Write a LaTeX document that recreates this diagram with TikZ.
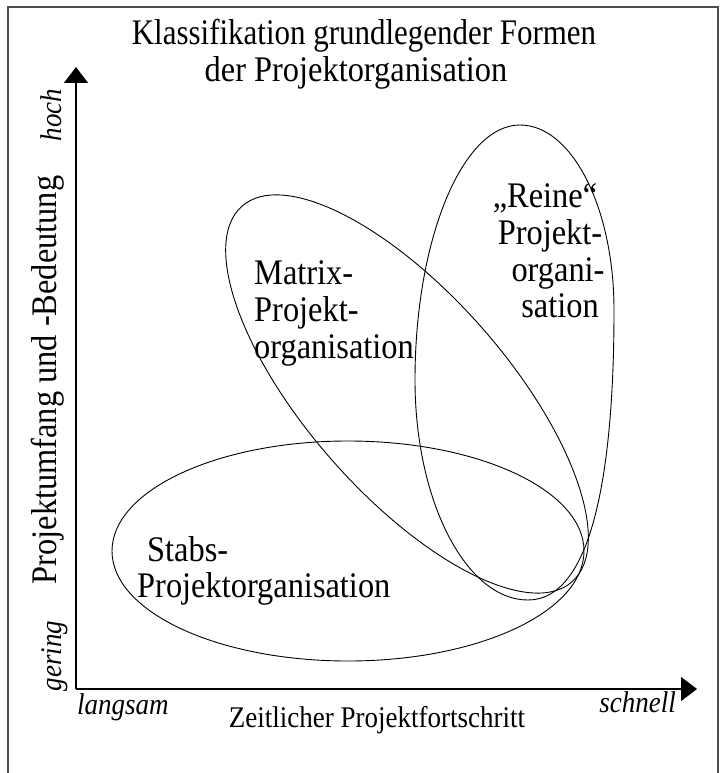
\documentclass[tikz,border=0pt]{standalone}
\usepackage{fontspec}
\setmainfont{Liberation Serif}[FakeStretch=0.9]
\newfontfamily\condfont{Liberation Serif}[FakeStretch=0.86]
\usetikzlibrary{arrows.meta}
\tikzset{
  frameline/.style={draw=black!70, line width=1.6pt},
  axisline/.style={line width=1.2pt, -{Triangle[length=16pt,width=24pt]}},
  oval/.style={line width=0.9pt},
  bigtxt/.style={inner sep=0pt, font=\fontsize{36}{38}\selectfont},
  axtxt/.style={inner sep=0pt, font=\fontsize{30}{32}\selectfont},
  ittxt/.style={inner sep=0pt, font=\fontsize{30}{32}\selectfont\itshape},
}
\begin{document}
\begin{tikzpicture}[x=1pt,y=-1pt]
\useasboundingbox (0,0) rectangle (723,773);
\draw[frameline] (8,775) -- (8,7) -- (718,7) -- (718,775);

% axes
\coordinate (O) at (76,689);
\coordinate (Ytop) at (76,67);
\coordinate (Xend) at (697,689);
\draw[axisline] (O) -- (Ytop);
\draw[axisline] (O) -- (Xend);

% title
\node[bigtxt, anchor=base] (t1) at (364,45) {\condfont Klassifikation grundlegender Formen};
\node[bigtxt, anchor=base] (t2) at (356,82) {der Projektorganisation};

% ellipses
\coordinate (cS) at (348,551);
\coordinate (cM) at (407,394);
\draw[oval] (cS) ellipse [x radius=236pt, y radius=110pt];
\draw[oval, rotate around={-48.7:(cM)}] (cM) ellipse [x radius=250pt, y radius=100pt];
% "Reine" oval (slightly egg-shaped)
\coordinate (rT) at (520,125);
\coordinate (rR) at (614,310);
\coordinate (rB) at (528,600);
\coordinate (rL) at (415,380);
\draw[oval] (rT) .. controls (572,125) and (614,208) .. (rR)
  .. controls (614,480) and (590,600) .. (rB)
  .. controls (466,600) and (415,501) .. (rL)
  .. controls (415,240) and (462,125) .. (rT) -- cycle;

% ellipse texts
\node[bigtxt, anchor=base] (r1) at (545,207) {„Reine“};
\node[bigtxt, anchor=base] (r2) at (550,244) {Projekt-};
\node[bigtxt, anchor=base] (r3) at (558,281) {organi-};
\node[bigtxt, anchor=base] (r4) at (560,317) {sation};

\node[bigtxt, anchor=base west] (m1) at (254,284) {Matrix-};
\node[bigtxt, anchor=base west] (m2) at (254,321) {Projekt-};
\node[bigtxt, anchor=base west] (m3) at (254,358) {organisation};

\node[bigtxt, anchor=base west] (s1) at (147,561) {Stabs-};
\node[bigtxt, anchor=base west] (s2) at (137,597) {Projektorganisation};

% axis labels
\node[axtxt, anchor=base] (xl) at (377,727) {Zeitlicher Projektfortschritt};
\node[ittxt, anchor=base west] (lang) at (77,714) {langsam};
\node[ittxt, anchor=base east] (schn) at (676,712) {schnell};
\node[bigtxt, rotate=90, anchor=base] (yl) at (56,380) {Projektumfang und -Bedeutung};
\node[ittxt, rotate=90, anchor=base] (hoch) at (61,115) {hoch};
\node[ittxt, rotate=90, anchor=base] (ger) at (61,656) {gering};
\end{tikzpicture}
\end{document}
